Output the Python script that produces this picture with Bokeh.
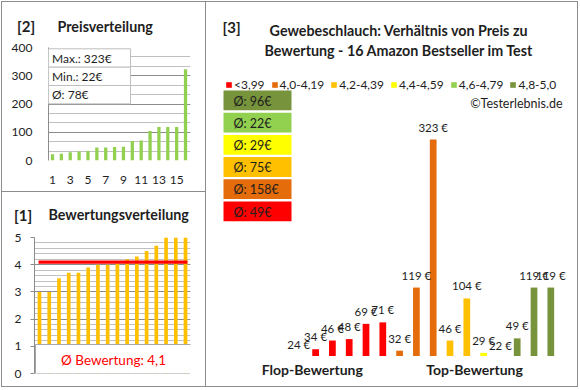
import numpy as np
from bokeh.plotting import figure
from bokeh.models import (ColumnDataSource, Range1d, BoxAnnotation, Label, LabelSet, Legend,
                          LegendItem, SingleIntervalTicker, FixedTicker)
from bokeh.layouts import row, column
from bokeh.embed import file_html
from bokeh.resources import INLINE
from bokeh.core.properties import value

FONT = "Lato"
TXT = "#1E1E1E"
GRID = "#8C8C8C"
GRID_MINOR = "#C0C0C0"
BOXLINE = "#BFBFBF"

# ---------------- data ----------------
product_ratings = [3.0, 3.0, 3.5, 3.7, 3.7, 3.9, 4.0, 4.0, 4.05, 4.2, 4.3, 4.5, 4.7, 5.0, 5.0, 5.0]
product_prices = [24, 34, 46, 48, 69, 71, 32, 119, 323, 46, 104, 29, 22, 49, 119, 119]
product_group = [0, 0, 0, 0, 0, 0, 1, 1, 1, 2, 2, 3, 4, 5, 5, 5]
rating_groups = ["<3,99", "4,0-4,19", "4,2-4,39", "4,4-4,59", "4,6-4,79", "4,8-5,0"]
group_colors = ["#FF0000", "#E46C0A", "#FFC000", "#FFFF00", "#92D050", "#77933C"]
price_rank_ticks = [1, 3, 5, 7, 9, 11, 13, 15]
side_label_pos = [1.8, 11.46]
side_label_text = ["Flop-Bewertung", "Top-Bewertung"]
title_2 = ["[2]", "Preisverteilung"]
title_1 = ["[1]", "Bewertungsverteilung"]
title_3 = ["[3]", "Gewebeschlauch: Verhältnis von Preis zu",
           "Bewertung - 16 Amazon Bestseller im Test"]
copyright_text = "©Testerlebnis.de"

LW, RW = 203, 371


def noalign(p):
    if "frame_align" in p.properties():
        p.frame_align = False
    return p


def blank_fig(w, h, ref_box, x_range=None):
    """figure whose frame fills the whole canvas, in reference pixel coordinates"""
    rx0, ry0, rx1, ry1 = ref_box
    p = figure(width=w, height=h,
               x_range=x_range if x_range is not None else Range1d(rx0, rx1),
               y_range=Range1d(ry1, ry0),
               min_border=0, x_axis_location=None, y_axis_location=None,
               output_backend="svg", toolbar_location=None,
               background_fill_color="white", border_fill_color="white",
               outline_line_color=None)
    p.xgrid.visible = False
    p.ygrid.visible = False
    return noalign(p)


def chart_fig(w, h, ref_box, frame_ref, x_range, y_range):
    rx0, ry0, rx1, ry1 = ref_box
    fl = round(frame_ref[0] - rx0)
    fr = round(frame_ref[2] - rx0)
    ft = round(frame_ref[1] - ry0)
    fb = round(frame_ref[3] - ry0)
    p = figure(width=w, height=h, x_range=x_range, y_range=y_range,
               min_border_left=fl, min_border_right=w - fr,
               min_border_top=ft, min_border_bottom=h - fb,
               output_backend="svg", toolbar_location=None,
               background_fill_color="white", border_fill_color="white",
               outline_line_color=None)
    p.extra_x_ranges = {"ref": Range1d(rx0 + fl, rx0 + fr)}
    p.extra_y_ranges = {"ref": Range1d(ry0 + fb, ry0 + ft)}
    return noalign(p)


def label(p, x, y, text, size, bold=False, color=TXT, align="left",
          baseline="alphabetic", ref=True):
    kw = dict(x_range_name="ref", y_range_name="ref") if ref else {}
    p.add_layout(Label(x=x, y=y, text=text, text_font=FONT, text_font_size=size,
                       text_font_style="bold" if bold else "normal",
                       text_color=color, text_align=align, text_baseline=baseline, **kw))


def ref_box(p, l, r, t, b, fill, line=None):
    p.add_layout(BoxAnnotation(left=l, right=r, top=t, bottom=b,
                               x_range_name="ref", y_range_name="ref",
                               fill_color=fill, fill_alpha=1,
                               line_color=line, line_alpha=1, line_width=1))


def style_y(ax, standoff, tick_out):
    ax.axis_line_color = GRID
    ax.major_tick_line_color = GRID if tick_out else None
    ax.major_tick_out = tick_out
    ax.major_tick_in = 0
    ax.minor_tick_line_color = None
    ax.major_label_standoff = standoff
    ax.major_label_text_font = FONT
    ax.major_label_text_font_size = "12px"
    ax.major_label_text_color = TXT


# ---------------- [2] Preisverteilung ----------------
t2 = blank_fig(LW, 36, (2, 2, 205, 38))
label(t2, 16.5, 25.5, title_2[0], "15px", bold=True, ref=False)
label(t2, 57, 25.5, title_2[1], "14.3px", bold=True, ref=False)

prices_sorted = sorted(product_prices)
p2 = chart_fig(LW, 153, (2, 38, 205, 191), (48, 47, 190, 160),
               Range1d(0.549, 16.56), Range1d(0, 400))
src2 = ColumnDataSource(dict(x=list(range(1, len(prices_sorted) + 1)), y=prices_sorted))
p2.vbar(x="x", top="y", width=0.37, source=src2, fill_color="#92D050", line_color=None)
p2.xgrid.grid_line_color = None
p2.ygrid.grid_line_color = GRID
p2.ygrid.minor_grid_line_color = GRID_MINOR
p2.yaxis.ticker = SingleIntervalTicker(interval=100, num_minor_ticks=3)
style_y(p2.yaxis[0], 12, 0)
p2.xaxis.ticker = FixedTicker(ticks=price_rank_ticks)
p2.xaxis.axis_line_color = None
p2.xaxis.major_tick_line_color = None
p2.xaxis.minor_tick_line_color = None
p2.xaxis.major_tick_out = 0
p2.xaxis.major_tick_in = 0
p2.xaxis.major_label_standoff = 15
p2.xaxis.major_label_text_font = FONT
p2.xaxis.major_label_text_font_size = "12px"
p2.xaxis.major_label_text_color = TXT

pmax, pmin, pavg = max(product_prices), min(product_prices), round(float(np.mean(product_prices)))
info = [f"Max.: {pmax}€", f"Min.: {pmin}€", f"Ø: {pavg}€"]
row_edges = [48.3, 66.7, 85.0, 103.3]
for i, t in enumerate(info):
    ref_box(p2, 42.3, 130, row_edges[i], row_edges[i + 1], "white", BOXLINE)
    label(p2, 51.5, (row_edges[i] + row_edges[i + 1]) / 2, t, "12px", baseline="middle")

# ---------------- [1] Bewertungsverteilung ----------------
t1 = blank_fig(LW, 34, (2, 192, 205, 226))
label(t1, 13.5, 214, title_1[0], "15px", bold=True, ref=False)
label(t1, 48, 214, title_1[1], "14.3px", bold=True, ref=False)

ratings_sorted = sorted(product_ratings)
p1 = chart_fig(LW, 160, (2, 226, 205, 386), (34, 237, 190, 373),
               Range1d(0.486, 16.51), Range1d(0, 5))
src1 = ColumnDataSource(dict(x=list(range(1, len(ratings_sorted) + 1)), y=ratings_sorted))
p1.vbar(x="x", top="y", width=0.38, source=src1, fill_color="#FFC000", line_color=None)
r_avg = float(np.mean(product_ratings))
p1.segment(x0=[0.9], y0=[r_avg], x1=[len(ratings_sorted) + 0.2], y1=[r_avg],
           line_color="#FF0000", line_width=3.2)
p1.xgrid.grid_line_color = None
p1.ygrid.grid_line_color = GRID
p1.ygrid.minor_grid_line_color = GRID_MINOR
p1.yaxis.ticker = SingleIntervalTicker(interval=1, num_minor_ticks=5)
style_y(p1.yaxis[0], 9, 4)
p1.xaxis.visible = False
ref_box(p1, 35, 191, 344, 373, "white", "#A6A6A6")
label(p1, 113, 359, "Ø Bewertung: " + f"{r_avg:.1f}".replace(".", ","), "13.5px",
      color="#FF0000", align="center", baseline="middle")

# ---------------- [3] Preis / Bewertung ----------------
x3 = Range1d(-4.494, 17.589)
p3 = figure(width=RW, height=354, x_range=x3, y_range=Range1d(24, 511.8),
            min_border=0, x_axis_location=None, y_axis_location=None,
            output_backend="svg", toolbar_location=None,
            background_fill_color="white", border_fill_color="white",
            outline_line_color=None)
noalign(p3)
p3.xgrid.visible = False
p3.ygrid.visible = False
p3.extra_x_ranges = {"ref": Range1d(206, 577)}
p3.extra_y_ranges = {"ref": Range1d(356, 2)}
src3 = ColumnDataSource(dict(
    x=list(range(1, len(product_prices) + 1)),
    top=product_prices,
    color=[group_colors[g] for g in product_group],
    lbl=[f"{v} €" for v in product_prices],
))
bars = p3.vbar(x="x", top="top", bottom=0, width=0.4, source=src3,
               fill_color="color", line_color=None)
p3.add_layout(LabelSet(x="x", y="top", text="lbl", source=src3, text_align="center",
                       text_baseline="middle", y_offset=12.5, text_font=value(FONT),
                       text_font_size=value("11.5px"), text_color=TXT))

items = []
for gi, name in enumerate(rating_groups):
    items.append(LegendItem(label=name, renderers=[bars], index=product_group.index(gi)))
legend = Legend(items=items, orientation="horizontal", location=(19, 264),
                glyph_width=7, glyph_height=7, label_standoff=2, spacing=6,
                padding=0, margin=0, border_line_color=None, background_fill_alpha=0,
                label_text_font=FONT, label_text_font_size="12px", label_text_color=TXT,
                label_height=14)
p3.add_layout(legend)

label(p3, 222, 26.7, title_3[0], "15px", bold=True)
label(p3, 398.5, 30, title_3[1], "14.3px", bold=True, align="center")
label(p3, 398.5, 50, title_3[2], "14.3px", bold=True, align="center")
label(p3, 562, 102.5, copyright_text, "12.5px", align="right")

avgs = []
for gi in range(len(rating_groups)):
    vals = [p for p, g in zip(product_prices, product_group) if g == gi]
    avgs.append(round(float(np.mean(vals))))
for k, gi in enumerate(reversed(range(len(rating_groups)))):
    top = 90 + 22.2 * k
    ref_box(p3, 223, 291, top, top + 19.8, group_colors[gi])
    label(p3, 233, top + 10.5, f"Ø: {avgs[gi]}€", "12.5px", baseline="middle")

s3 = blank_fig(RW, 30, (206, 356, 577, 386), x_range=x3)
s3.add_layout(LabelSet(x="x", y="y", text="t",
                       source=ColumnDataSource(dict(x=side_label_pos, y=[369, 369],
                                                    t=side_label_text)),
                       text_align="center", text_baseline="middle", text_font=value(FONT),
                       text_font_size=value("14px"), text_font_style="bold", text_color=TXT))

WHITE = {"background-color": "white"}
left = column(column(t2, p2, spacing=0, styles=WHITE),
              column(t1, p1, spacing=0, styles=WHITE), spacing=1)
right = column(p3, s3, spacing=0, styles=WHITE)
layout = row(left, right, spacing=1,
             styles={"background-color": "#8C8C8C", "padding": "1px",
                     "margin-left": "1px", "margin-top": "1px"})

open("out.html", "w").write(file_html(layout, INLINE))
